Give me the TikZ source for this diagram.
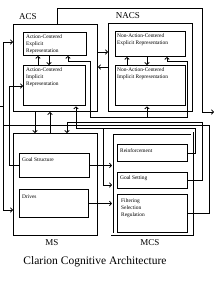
\documentclass[tikz,border=0pt]{standalone}
\usepackage{fontspec}
\setmainfont{Liberation Serif}
\usetikzlibrary{calc,arrows.meta}
\tikzset{
  >={Straight Barb[length=2pt,width=4.5pt]},
  unit/.style={draw,line width=1pt,anchor=north west,inner sep=0pt},
  part/.style={draw,line width=0.9pt,anchor=north west,inner sep=0pt},
  implicit/.style={part,line width=1.4pt},
  parttext/.style={anchor=north west,inner sep=0pt,align=left,font=\fontsize{5.4}{7}\selectfont},
  unitname/.style={inner sep=0pt,font=\fontsize{9}{10}\selectfont},
  link/.style={line width=0.8pt},
}
\begin{document}
\begin{tikzpicture}[x=1pt,y=-1pt]
\path[use as bounding box] (0,0) rectangle (220,285);
\node[unit,minimum width=84pt,minimum height=87pt] (acs) at (13,24) {};
\node[unitname] (acsname) at (28,17) {ACS};
\node[part,minimum width=63pt,minimum height=23pt] (acsE) at (23,32) {};
\node[parttext] (acsEtext) at ($(acsE.north west)+(3,3)$) {Action-Centered\\Explicit\\Representation};
\node[implicit,minimum width=62pt,minimum height=40pt] (acsI) at (23,65) {};
\node[parttext] (acsItext) at ($(acsI.north west)+(3,3)$) {Action-Centered\\Implicit\\Representation};
\node[unit,minimum width=84pt,minimum height=88pt] (nacs) at (108,23) {};
\node[unitname] (nacsname) at (128,16) {NACS};
\node[part,minimum width=70pt,minimum height=25pt] (nacsE) at (115,31) {};
\node[parttext] (nacsEtext) at ($(nacsE.north west)+(2,3)$) {Non-Action-Centered\\Explicit Representation};
\node[implicit,minimum width=70pt,minimum height=40pt] (nacsI) at (115,65) {};
\node[parttext] (nacsItext) at ($(nacsI.north west)+(2,3)$) {Non-Action-Centered\\Implicit Representation};
\node[unit,minimum width=84pt,minimum height=102pt] (ms) at (13,133) {};
\node[unitname] (msname) at (52,243) {MS};
\node[part,minimum width=70pt,minimum height=24pt] (goal) at (19,153) {};
\node[parttext] (goaltext) at ($(goal.north west)+(3,5)$) {Goal Structure};
\node[part,minimum width=69pt,minimum height=28pt] (drives) at (19,189) {};
\node[parttext] (drivestext) at ($(drives.north west)+(3,6)$) {Drives};
\node[unit,double,double distance=2pt,line width=0.7pt,minimum width=80pt,minimum height=101pt] (mcs) at (112,133) {};
\node[unitname] (mcsname) at (150,243) {MCS};
\node[part,minimum width=70pt,minimum height=17pt] (reinf) at (117,144) {};
\node[parttext] (reinftext) at ($(reinf.north west)+(3,4)$) {Reinforcement};
\node[part,minimum width=70pt,minimum height=16pt] (gset) at (117,172) {};
\node[parttext] (gsettext) at ($(gset.north west)+(3,4)$) {Goal Setting};
\node[implicit,minimum width=70pt,minimum height=38pt] (filt) at (117,194) {};
\node[parttext] (filttext) at ($(filt.north west)+(4,5)$) {Filtering\\Selection\\Regulation};
\node[inner sep=0pt,font=\fontsize{11.5}{13}\selectfont] (title) at (95,262) {Clarion Cognitive Architecture};
\coordinate (out) at (214,112);
\coordinate (railtop) at (3,125);
\coordinate (branch) at (103,128);
\draw[link,->] ($(acs.north west)+(44,0)$) |- (202,8) |- (out);
\draw[link,->] (acs.east |- 0,52) -- (nacs.west |- 0,52);
\draw[link,->] (nacs.west |- 0,67) -- (acs.east |- 0,67);
\draw[link,->] (49,0 |- acsE.south) -- (49,0 |- acsI.north);
\draw[link,->] (38,0 |- acsI.north) -- (38,0 |- acsE.south);
\draw[link,->] (147,0 |- nacsE.south) -- (147,0 |- nacsI.north);
\draw[link,->] (127,0 |- nacsI.north) -- (127,0 |- nacsE.south);
\draw[link,<->] (68,0 |- acsE.south) -- (68,61) -- (90,61) -- (90,117) -- (187,117) -- (187,61) -- (167,61) -- (167,0 |- nacsE.south);
\draw[link,->] (147,117) -- (147,0 |- nacsI.south);
\draw[link,->] (35,0 |- acs.south) -- (35,0 |- ms.north);
\draw[link,->] (50,0 |- ms.north) -- (50,0 |- acs.south);
\draw[link,->] (goal.west) -| (9,86) -- (acsI.west |- 0,86);
\draw[link,->] (goal.east) -- (mcs.west |- goal.east);
\draw[link,->] (drives.east) -- (mcs.west |- drives.east);
\draw[link,->] (filt.east |- 0,213) -| (209,125) -- (railtop) |- (acs.west |- 0,42);
\draw[link,->] (railtop) |- (ms.west |- 0,210);
\draw[link] (0,106) -- (3,106);
\draw[link,->] (gset.east) -| (202,122) -| (67,0 |- ms.north);
\draw[link,->] (reinf.east) -| (195,128) -| (76,0 |- acsI.south);
\draw[link,->] (branch) |- (mcs.west |- 0,185);
\end{tikzpicture}
\end{document}
